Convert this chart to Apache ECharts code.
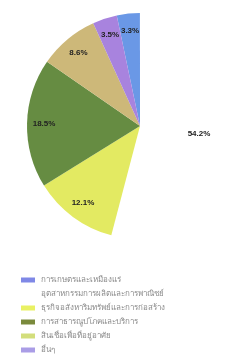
<!DOCTYPE html>
<html>
<head>
<meta charset="utf-8">
<script src="https://cdn.jsdelivr.net/npm/echarts@6/dist/echarts.min.js"></script>
<style>
html,body{margin:0;padding:0;background:#fff;}
#main{width:245px;height:357px;}
</style>
</head>
<body>
<div id="main"></div>
<script>
var names = ['การเกษตรและเหมืองแร่', 'อุตสาหกรรมการผลิตและการพาณิชย์', 'ธุรกิจอสังหาริมทรัพย์และการก่อสร้าง', 'การสาธารณูปโภคและบริการ', 'สินเชื่อเพื่อที่อยู่อาศัย', 'อื่นๆ'];
var values = [3.3, 54.2, 12.1, 18.5, 8.6, 3.5];
var sliceColors = ['#6a98e6', '#ffffff', '#e3ea62', '#668c42', '#cdb879', '#a883de'];
var legendColors = ['#7f88e6', '#ffffff', '#e9f163', '#7a8a3c', '#d3de7c', '#aa9de6'];

var labelStyle = {
    position: 'inside',
    formatter: function (p) { return p.value.toFixed(1) + '%'; },
    fontSize: 8,
    fontWeight: 'bold',
    fontFamily: 'Liberation Sans',
    color: '#222'
};

var data = [], labelData = [];
for (var i = 0; i < names.length; i++) {
    var big = values[i] > 50;
    data.push({value: values[i], name: names[i], itemStyle: {color: sliceColors[i]}, label: {show: big}});
    // 小扇区的标签放在靠外的位置
    labelData.push({value: values[i], name: names[i], label: {show: !big}});
}

var legendData = [];
for (var j = 0; j < names.length; j++) {
    legendData.push({name: names[j], itemStyle: {color: legendColors[j]}});
}

var option = {
    animation: false,
    legend: {
        orient: 'vertical',
        left: 16, top: 271, height: 90,
        icon: 'rect',
        itemWidth: 14, itemHeight: 5, itemGap: 6,   //图例宽度、高度、间隔
        data: legendData,
        textStyle: {fontSize: 8, color: '#8a8a8a', padding: [0, 0, 0, 1]}
    },
    series: [{
        type: 'pie',
        center: [140, 126],
        radius: [0, 113],
        startAngle: 90 + 3.3 * 3.6,
        clockwise: true,
        data: data,
        label: labelStyle,
        labelLine: {show: false},
        labelLayout: {hideOverlap: false},
        itemStyle: {borderWidth: 0}
    }, {
        type: 'pie',
        center: [140, 126],
        radius: [0, 186],
        startAngle: 90 + 3.3 * 3.6,
        clockwise: true,
        silent: true,
        data: labelData,
        label: labelStyle,
        labelLine: {show: false},
        labelLayout: {hideOverlap: false},
        itemStyle: {color: 'rgba(0,0,0,0)', borderWidth: 0},
        z: 3
    }]
};
var myChart = echarts.init(document.getElementById('main'));
myChart.setOption(option);
</script>
</body>
</html>
